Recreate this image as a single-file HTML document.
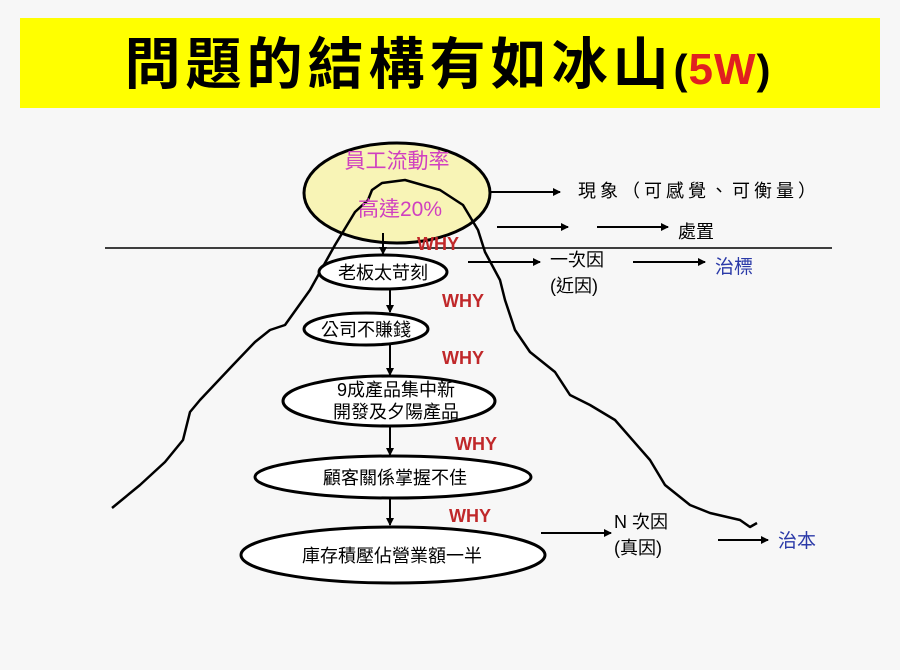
<!DOCTYPE html>
<html><head><meta charset="utf-8"><style>
body{margin:0;background:#f7f7f7;}
svg{display:block}
text{font-family:"Liberation Sans","Noto Sans CJK TC",sans-serif;}
</style></head><body>
<svg width="900" height="670" viewBox="0 0 900 670" xmlns="http://www.w3.org/2000/svg">
<defs><marker id="a" markerWidth="8" markerHeight="8" refX="7" refY="4" orient="auto" markerUnits="userSpaceOnUse"><path d="M0,0 L8,4 L0,8z" fill="#000"/></marker></defs>
<rect x="0" y="0" width="900" height="670" fill="#f7f7f7"/>
<rect x="20" y="18" width="860" height="90" fill="#ffff00"/>
<text x="450" y="84" text-anchor="middle" font-size="56" font-weight="bold" fill="#000" letter-spacing="5">問題的結構有如冰山<tspan font-size="42" letter-spacing="1">(</tspan><tspan fill="#e02020" font-size="44" letter-spacing="1">5W</tspan><tspan font-size="42">)</tspan></text>
<ellipse cx="397" cy="193" rx="93" ry="50" fill="#f8f4b6" stroke="#000" stroke-width="3"/>
<path d="M112,508 L140,485 L165,462 L183,440 L190,412 L200,400 L233,365 L255,342 L270,330 L285,325 L310,290 L335,245 L355,212 L368,200 L372,190 L382,183 L405,180 L440,190 L463,205 L478,230 L485,252 L500,280 L505,300 L515,330 L530,352 L555,372 L570,395 L590,405 L615,420 L650,460 L665,485 L690,505 L710,513 L740,520 L750,527 L757,523" fill="none" stroke="#000" stroke-width="2.5" stroke-linejoin="round"/>
<line x1="105" y1="248" x2="832" y2="248" stroke="#000" stroke-width="1.5"/>
<text x="397" y="168" text-anchor="middle" font-size="21" fill="#d040c0">員工流動率</text>
<text x="400" y="216" text-anchor="middle" font-size="21" fill="#d040c0">高達20%</text>
<g stroke="#000" stroke-width="2" fill="none" marker-end="url(#a)">
<line x1="383" y1="233" x2="383" y2="254"/>
<line x1="390" y1="289" x2="390" y2="312"/>
<line x1="390" y1="345" x2="390" y2="375"/>
<line x1="390" y1="426" x2="390" y2="455"/>
<line x1="390" y1="498" x2="390" y2="525"/>
<line x1="490" y1="192" x2="560" y2="192"/>
<line x1="497" y1="227" x2="568" y2="227"/>
<line x1="597" y1="227" x2="668" y2="227"/>
<line x1="468" y1="262" x2="540" y2="262"/>
<line x1="633" y1="262" x2="705" y2="262"/>
<line x1="541" y1="533" x2="611" y2="533"/>
<line x1="718" y1="540" x2="768" y2="540"/>
</g>
<g fill="#fff" stroke="#000" stroke-width="3">
<ellipse cx="383" cy="272" rx="64" ry="17"/>
<ellipse cx="366" cy="329" rx="62" ry="16"/>
<ellipse cx="389" cy="401" rx="106" ry="25"/>
<ellipse cx="393" cy="477" rx="138" ry="21"/>
<ellipse cx="393" cy="555" rx="152" ry="28"/>
</g>
<g font-size="18" fill="#000" text-anchor="middle">
<text x="383" y="279">老板太苛刻</text>
<text x="366" y="336">公司不賺錢</text>
<text x="396" y="396">9成產品集中新</text>
<text x="396" y="418">開發及夕陽產品</text>
<text x="395" y="484">顧客關係掌握不佳</text>
<text x="392" y="562">庫存積壓佔營業額一半</text>
</g>
<g font-size="18" font-weight="bold" fill="#c0282a">
<text x="417" y="250">WHY</text>
<text x="442" y="307">WHY</text>
<text x="442" y="364">WHY</text>
<text x="455" y="450">WHY</text>
<text x="449" y="522">WHY</text>
</g>
<g font-size="18" fill="#000">
<text x="578" y="197" letter-spacing="4">現象（可感覺、可衡量）</text>
<text x="678" y="238">處置</text>
<text x="550" y="266">一次因</text>
<text x="550" y="292">(近因)</text>
<text x="614" y="528">N 次因</text>
<text x="614" y="554">(真因)</text>
</g>
<g font-size="19" fill="#2b3aa8">
<text x="715" y="273">治標</text>
<text x="778" y="547">治本</text>
</g>
</svg>
</body></html>
